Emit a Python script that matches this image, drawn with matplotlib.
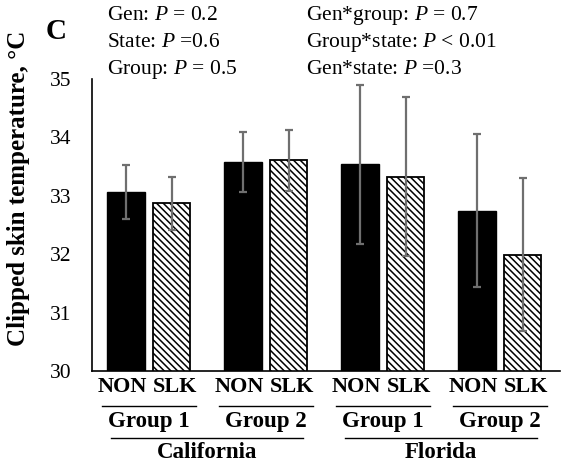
import matplotlib
matplotlib.use("Agg")
import matplotlib.pyplot as plt
import matplotlib.transforms as mtransforms
import numpy as np

plt.rcParams['font.family'] = ['Liberation Serif', 'DejaVu Serif']
plt.rcParams['hatch.linewidth'] = 1.1
plt.rcParams['mathtext.fontset'] = 'custom'
plt.rcParams['mathtext.it'] = 'Liberation Serif:italic'
plt.rcParams['mathtext.rm'] = 'Liberation Serif'

states = ["California", "Florida"]
groups = ["Group 1", "Group 2", "Group 1", "Group 2"]
series = ["NON", "SLK"]
non_vals = [33.07, 33.58, 33.54, 32.74]
non_err = [0.46, 0.52, 1.36, 1.31]
slk_vals = [32.87, 33.61, 33.33, 31.99]
slk_err = [0.46, 0.52, 1.36, 1.31]
yticks = [30, 31, 32, 33, 34, 35]
stats_left = ["Gen: $\\it{P}$ = 0.2", "State: $\\it{P}$ =0.6", "Group: $\\it{P}$ = 0.5"]
stats_right = ["Gen*group: $\\it{P}$ = 0.7", "Group*state: $\\it{P}$ < 0.01", "Gen*state: $\\it{P}$ =0.3"]

fig = plt.figure(figsize=(5.65, 4.69), dpi=100)
ax = fig.add_axes([92/565, 1-371/469, (560-92)/565, (371-79)/469])

x = np.arange(len(groups))
w = 0.32
x_non = x + 0.29
x_slk = x + 0.68
ekw = dict(ecolor='#6f6f6f', elinewidth=1.6, capsize=3.0, capthick=1.6)
ax.bar(x_non, non_vals, width=w, color='black', edgecolor='black', linewidth=1.0,
       yerr=non_err, error_kw=ekw)
ax.bar(x_slk, slk_vals, width=w, color='white', edgecolor='black', linewidth=1.3,
       hatch='\\\\\\\\\\', yerr=slk_err, error_kw=ekw)

ax.set_ylim(30, 35)
ax.set_xlim(0, 4)
ax.set_yticks(yticks)
ax.set_yticklabels([str(t) for t in yticks], fontsize=15.5)
ax.tick_params(axis='y', length=0, pad=15)
ax.set_xticks([])
for s in ['top', 'right']:
    ax.spines[s].set_visible(False)
ax.spines['left'].set_linewidth(1.2)
ax.spines['bottom'].set_linewidth(1.2)

trans = mtransforms.blended_transform_factory(ax.transData, fig.transFigure)

def fy(py):
    return 1 - py / 469

for i in range(len(groups)):
    ax.text(x_non[i] - 0.03, fy(387), series[0], transform=trans, ha='center', va='center',
            fontsize=16, fontweight='bold')
    ax.text(x_slk[i] + 0.03, fy(387), series[1], transform=trans, ha='center', va='center',
            fontsize=16, fontweight='bold')
    c = (x_non[i] + x_slk[i]) / 2
    fig.add_artist(plt.Line2D([c - 0.4, c + 0.4], [fy(405.5), fy(405.5)], transform=trans,
                              color='black', linewidth=1.0))
    ax.text(c, fy(421), groups[i], transform=trans, ha='center', va='center',
            fontsize=16.5, fontweight='bold')

for j, st in enumerate(states):
    c = ((x_non[2*j] + x_slk[2*j]) / 2 + (x_non[2*j+1] + x_slk[2*j+1]) / 2) / 2
    fig.add_artist(plt.Line2D([c - 0.82, c + 0.82], [fy(437.5), fy(437.5)], transform=trans,
                              color='black', linewidth=1.0))
    ax.text(c, fy(452), st, transform=trans, ha='center', va='center',
            fontsize=16.5, fontweight='bold')

fig.text(19/565, fy(188), "Clipped skin temperature, °C", rotation=90, ha='center', va='center',
         fontsize=18, fontweight='bold')
fig.text(46/565, fy(39), "C", ha='left', va='baseline', fontsize=21, fontweight='bold')

base = [20, 47, 74]
for k in range(3):
    fig.text(107/565, fy(base[k]), stats_left[k], ha='left', va='baseline', fontsize=15.5)
    fig.text(306/565, fy(base[k]), stats_right[k], ha='left', va='baseline', fontsize=15.5)

fig.savefig("out.png", dpi=100)
